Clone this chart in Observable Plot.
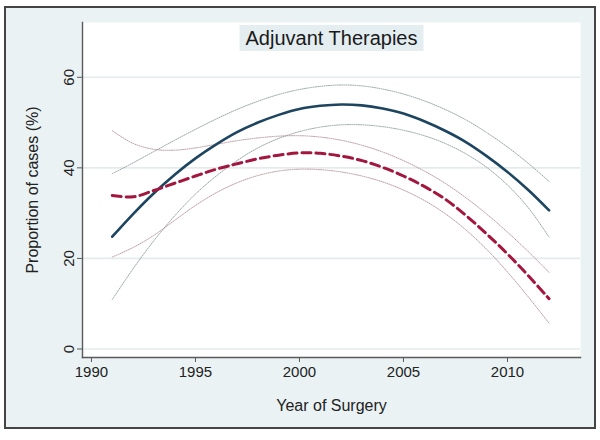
<!DOCTYPE html>
<html>
<head>
<meta charset="utf-8">
<script src="https://cdn.jsdelivr.net/npm/d3@7"></script>
<script src="https://cdn.jsdelivr.net/npm/@observablehq/plot@0.6"></script>
<style>
  html, body { margin: 0; padding: 0; background: #ffffff; }
  #wrap { position: relative; width: 600px; height: 440px; overflow: hidden; }
  #panel { position: absolute; left: 4px; top: 6px; width: 588px; height: 419px;
           border: 2px solid #444444; background: #eaf2f3; }
  #chart { position: absolute; left: 0; top: 0; }
  #chart svg { background: transparent; }
</style>
</head>
<body>
<div id="wrap"><div id="panel"></div><div id="chart"></div></div>
<script>
// ---- data ----
const years = [1991,1992,1993,1994,1995,1996,1997,1998,1999,2000,2001,2002,2003,2004,2005,2006,2007,2008,2009,2010,2011,2012];

// solid navy series and its confidence band
const fit1 = [24.8,29.8,34.4,38.5,42.1,45.2,47.9,50.0,51.7,53.0,53.7,54.0,53.8,53.1,52.0,50.3,48.2,45.7,42.6,39.1,35.1,30.6];
const ucl1 = [38.7,41.1,43.6,46.1,48.5,50.8,52.9,54.7,56.2,57.3,58.0,58.3,58.1,57.4,56.3,54.8,52.9,50.6,47.8,44.6,41.0,37.0];
const lcl1 = [10.9,17.7,23.9,29.4,34.2,38.2,41.6,44.4,46.5,48.0,49.0,49.5,49.5,49.1,48.3,47.1,45.4,43.1,40.1,36.2,31.2,24.7];

// dashed crimson series and its confidence band
const fit2 = [33.9,33.6,35.0,36.6,38.2,39.7,40.9,42.0,42.8,43.3,43.2,42.6,41.6,40.1,38.2,35.9,33.1,29.5,25.4,21.0,16.2,11.1];
const ucl2 = [48.2,45.4,44.1,43.9,44.4,45.2,46.0,46.6,47.0,47.1,46.8,46.1,45.0,43.5,41.6,39.3,36.6,33.4,29.8,25.8,21.5,16.9];
const lcl2 = [20.3,22.4,25.1,28.4,31.7,34.5,36.7,38.3,39.3,39.7,39.6,39.1,38.2,36.9,35.1,32.8,29.9,26.3,22.0,17.0,11.5,5.7];

const xTicks = [1990,1995,2000,2005,2010];
const yTicks = [0,20,40,60];
const titleText = "Adjuvant Therapies";
const xLabel = "Year of Surgery";
const yLabel = "Proportion of cases (%)";

// ---- build long tables ----
const toRows = (arr, key) => years.map((yr, i) => ({year: yr, value: arr[i], key}));
const ciRows1 = [...toRows(ucl1, "u1"), ...toRows(lcl1, "l1")];
const ciRows2 = [...toRows(ucl2, "u2"), ...toRows(lcl2, "l2")];
const fitRows1 = toRows(fit1, "f1");
const fitRows2 = toRows(fit2, "f2");

const FONT = "'Liberation Sans', Arial, sans-serif";

const chart = Plot.plot({
  width: 600,
  height: 440,
  marginLeft: 82,
  marginRight: 20,
  marginTop: 22,
  marginBottom: 83,
  style: {fontFamily: FONT, background: "transparent", color: "#222"},
  x: {domain: [1989.57, 2013.51]},
  y: {domain: [-1.88, 72.1]},
  marks: [
    Plot.frame({fill: "white", stroke: null}),
    Plot.gridY(yTicks, {stroke: "#e4ebed", strokeOpacity: 1, strokeWidth: 1.6}),
    Plot.line(ciRows1, {x: "year", y: "value", z: "key", curve: "catmull-rom",
      stroke: "#8c9c9c", strokeWidth: 0.9, strokeDasharray: "1,1.2"}),
    Plot.line(ciRows2, {x: "year", y: "value", z: "key", curve: "catmull-rom",
      stroke: "#b58e98", strokeWidth: 0.9, strokeDasharray: "1,1.2"}),
    Plot.line(fitRows1, {x: "year", y: "value", curve: "catmull-rom",
      stroke: "#1d4560", strokeWidth: 2.6}),
    Plot.line(fitRows2, {x: "year", y: "value", curve: "catmull-rom",
      stroke: "#a3173f", strokeWidth: 3, strokeDasharray: "9,5"}),
    Plot.frame({anchor: "left", stroke: "#5a5a5a", strokeWidth: 1.4}),
    Plot.frame({anchor: "bottom", stroke: "#5a5a5a", strokeWidth: 1.4}),
    Plot.axisX(xTicks, {tickSize: 5, tickPadding: 4, tickFormat: d => String(d), fontSize: 15,
      stroke: "#5a5a5a", fill: "#222", label: xLabel, labelAnchor: "center", labelOffset: 53,
      labelArrow: "none"}),
    Plot.axisY(yTicks, {tickSize: 5, tickPadding: 4, tickRotate: -90, fontSize: 15,
      textAnchor: "middle", lineAnchor: "bottom",
      stroke: "#5a5a5a", fill: "#222", label: yLabel, labelAnchor: "center", labelOffset: 56,
      labelArrow: "none"}),
    Plot.text([titleText], {frameAnchor: "top", dy: 16, lineAnchor: "middle", fontSize: 20,
      fill: "#1a1a1a", className: "chart-title"})
  ]
});

document.getElementById("chart").appendChild(chart);

// label sizes
d3.select(chart).selectAll("g[aria-label='x-axis label'] text, g[aria-label='y-axis label'] text")
  .style("font-size", "16px");

// title box behind the title text
const tnode = chart.querySelector(".chart-title text") || chart.querySelector("g.chart-title text");
if (tnode) {
  const bb = tnode.getBBox();
  const g = tnode.parentNode;
  const rect = document.createElementNS("http://www.w3.org/2000/svg", "rect");
  rect.setAttribute("x", bb.x - 6);
  rect.setAttribute("y", bb.y - 2);
  rect.setAttribute("width", bb.width + 12);
  rect.setAttribute("height", bb.height + 4);
  rect.setAttribute("fill", "#e4edf0");
  const tr = tnode.getAttribute("transform");
  if (tr) rect.setAttribute("transform", tr);
  g.insertBefore(rect, g.firstChild);
}
</script>
</body>
</html>
